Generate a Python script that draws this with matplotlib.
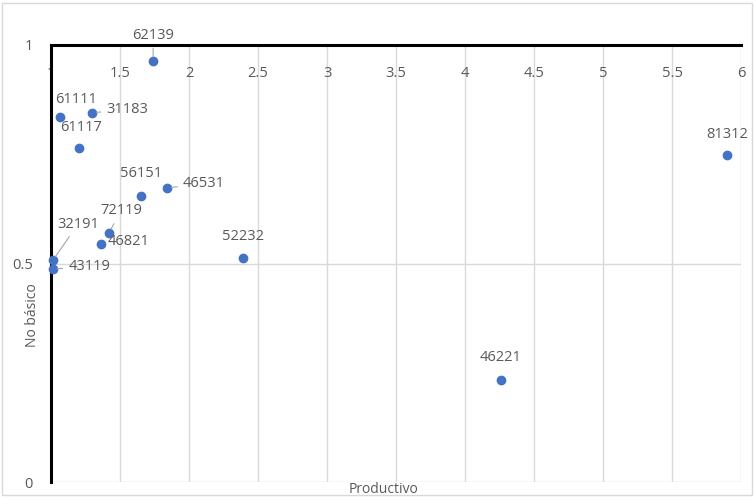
import matplotlib.pyplot as plt
from matplotlib.patches import Rectangle

# data
codes = ['62139', '61111', '31183', '61117', '56151', '46531', '72119',
         '46821', '32191', '43119', '52232', '46221', '81312']
productivo = [1.74, 1.065, 1.30, 1.20, 1.65, 1.84, 1.42, 1.36, 1.015, 1.015, 2.39, 4.26, 5.90]
no_basico = [0.963, 0.835, 0.845, 0.764, 0.654, 0.673, 0.570, 0.545, 0.508, 0.487, 0.513, 0.233, 0.748]

# label offsets in pixels (dx, dy) and whether a leader line is drawn
offsets = {
    '62139': (0, 26, True), '61111': (16, 18, False), '31183': (35, 3, True),
    '61117': (2, 21, False), '56151': (0, 23, False), '46531': (37, 4, True),
    '72119': (12, 22, True), '46821': (28, 2, False), '32191': (25, 36, True),
    '43119': (36, 3, True), '52232': (0, 21, False), '46221': (0, 23, False),
    '81312': (0, 21, False),
}

gray = '#595959'
plt.rcParams['font.family'] = ['Open Sans', 'DejaVu Sans']

fig = plt.figure(figsize=(7.54, 4.98), dpi=100)
fig.patches.append(Rectangle((0.003, 0.006), 0.994, 0.988, transform=fig.transFigure,
                             fill=False, edgecolor='#d9d9d9', lw=1))
ax = fig.add_axes([51 / 754, 1 - 482 / 498, 690 / 754, 437 / 498])
ax.set_xlim(1, 6)
ax.set_ylim(0, 1)

for s in ['right', 'bottom']:
    ax.spines[s].set_visible(False)
ax.spines['top'].set_linewidth(2.2)
ax.spines['left'].set_linewidth(2.2)
ax.spines['top'].set_color('black')
ax.spines['left'].set_color('black')

ax.xaxis.tick_top()
ax.set_xticks([1, 1.5, 2, 2.5, 3, 3.5, 4, 4.5, 5, 5.5, 6])
ax.set_xticklabels(['1', '1.5', '2', '2.5', '3', '3.5', '4', '4.5', '5', '5.5', '6'])
ax.set_yticks([0, 0.5, 1])
ax.set_yticklabels(['0', '0.5', '1'])
ax.tick_params(axis='x', length=0, pad=-26, labelsize=10.5, colors=gray)
ax.tick_params(axis='y', length=0, pad=13, labelsize=10.5, colors=gray)
ax.grid(True, color='#d9d9d9', lw=1)
ax.set_axisbelow(True)

ax.scatter(productivo, no_basico, s=36, color='#4472C4', zorder=3, clip_on=False)

for c, x, y in zip(codes, productivo, no_basico):
    dx, dy, leader = offsets[c]
    ax.annotate(c, (x, y), xytext=(dx, dy), textcoords='offset pixels',
                ha='center', va='center', fontsize=10.5, color=gray,
                arrowprops=dict(arrowstyle='-', color='#a6a6a6', lw=0.8,
                                shrinkA=2, shrinkB=3) if leader else None,
                annotation_clip=False, zorder=4)

fig.text(383 / 754, 1 - 489 / 498, 'Productivo', fontsize=10, color=gray,
         ha='center', va='center')
fig.text(32 / 754, 1 - 315 / 498, 'No básico', fontsize=10, color=gray,
         ha='center', va='center', rotation=90)

fig.savefig('out.png', dpi=100)
